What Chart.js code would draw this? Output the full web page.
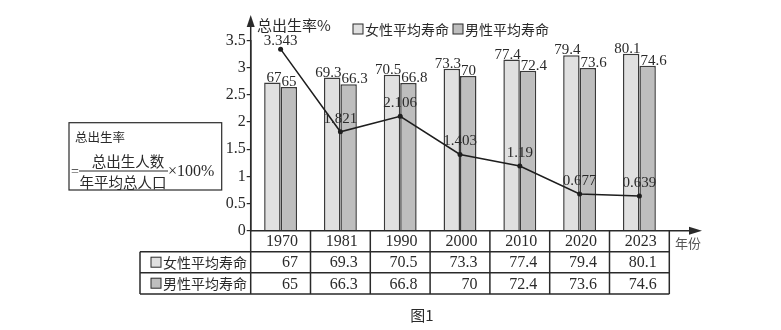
<!DOCTYPE html>
<html>
<head>
<meta charset="utf-8">
<script src="https://cdn.jsdelivr.net/npm/chart.js@4"></script>
<style>
	body { margin: 0; background: #fff; }
</style>
</head>
<body>
<canvas id="grafica" width="781" height="330"></canvas>
<script>
const years = ['1970', '1981', '1990', '2000', '2010', '2020', '2023'];
const femaleLife = [67, 69.3, 70.5, 73.3, 77.4, 79.4, 80.1];
const maleLife = [65, 66.3, 66.8, 70, 72.4, 73.6, 74.6];
const birthRate = [3.343, 1.821, 2.106, 1.403, 1.19, 0.677, 0.639];
const rateTicks = [0, 0.5, 1, 1.5, 2, 2.5, 3, 3.5];
const femaleLabel = '女性平均寿命';
const maleLabel = '男性平均寿命';

(function () {
	const grafica = document.getElementById('grafica');
	const serif = "'Liberation Serif', 'DejaVu Serif', serif";
	const cjk = "'Noto Sans CJK SC', 'Noto Sans', sans-serif";
	const ink = '#2a2a2a';
	const femaleColor = '#e0e0e0';
	const maleColor = '#bebebe';

	// --- ETIQUETAS, EJES CON FLECHA, LEYENDA Y TABLA --- //
	const extras = {
		id: 'extras',
		afterDatasetsDraw(chart) {
			const ctx = chart.ctx;
			ctx.save();
			ctx.fillStyle = ink;
			ctx.font = '15px ' + serif;
			ctx.textBaseline = 'alphabetic';
			// mujeres: pegada al borde derecho; hombres: al borde izquierdo
			chart.getDatasetMeta(1).data.forEach((bar, i) => {
				ctx.textAlign = 'right';
				ctx.fillText(String(femaleLife[i]), bar.x + bar.width / 2 + 1, bar.y - 1);
			});
			chart.getDatasetMeta(2).data.forEach((bar, i) => {
				ctx.textAlign = 'left';
				ctx.fillText(String(maleLife[i]), bar.x - bar.width / 2 + 1, bar.y - 1);
			});
			ctx.textAlign = 'center';
			chart.getDatasetMeta(0).data.forEach((pt, i) => {
				ctx.fillText(String(birthRate[i]), pt.x, Math.max(pt.y - 9, 45));
			});
			ctx.restore();
		},
		afterDraw(chart) {
			const ctx = chart.ctx;
			const area = chart.chartArea;
			const x = chart.scales.x;
			const colW = area.width / years.length;
			ctx.save();
			ctx.strokeStyle = ink;
			ctx.fillStyle = ink;
			ctx.lineWidth = 1.5;

			// eje y con flecha
			ctx.beginPath();
			ctx.moveTo(area.left, area.bottom);
			ctx.lineTo(area.left, 24);
			ctx.stroke();
			ctx.beginPath();
			ctx.moveTo(area.left, 15);
			ctx.lineTo(area.left - 4, 27);
			ctx.lineTo(area.left + 4, 27);
			ctx.closePath();
			ctx.fill();

			// eje x con flecha
			ctx.beginPath();
			ctx.moveTo(area.left, area.bottom);
			ctx.lineTo(692, area.bottom);
			ctx.stroke();
			ctx.beginPath();
			ctx.moveTo(702, area.bottom);
			ctx.lineTo(689, area.bottom - 4);
			ctx.lineTo(689, area.bottom + 4);
			ctx.closePath();
			ctx.fill();

			ctx.font = '15px ' + cjk;
			ctx.textAlign = 'left';
			ctx.textBaseline = 'middle';
			ctx.fillText('总出生率%', 257, 25);

			ctx.font = '13px ' + cjk;
			ctx.fillStyle = '#555';
			ctx.fillText('年份', 675, 243);
			ctx.fillStyle = ink;

			// leyenda
			ctx.lineWidth = 1;
			[[353, femaleColor, femaleLabel], [453, maleColor, maleLabel]].forEach(([lx, color, text]) => {
				ctx.fillStyle = color;
				ctx.fillRect(lx, 24, 10, 10);
				ctx.strokeRect(lx, 24, 10, 10);
				ctx.fillStyle = ink;
				ctx.font = '14px ' + cjk;
				ctx.fillText(text, lx + 12, 29.5);
			});

			// tabla
			const tLeft = 140;
			const tRight = area.right;
			const rows = [area.bottom, 251.7, 272.7, 294];
			ctx.lineWidth = 1.5;
			ctx.beginPath();
			ctx.moveTo(tLeft, rows[1]); ctx.lineTo(tRight, rows[1]);
			ctx.moveTo(tLeft, rows[2]); ctx.lineTo(tRight, rows[2]);
			ctx.moveTo(tLeft, rows[3]); ctx.lineTo(tRight, rows[3]);
			ctx.moveTo(tLeft, rows[1]); ctx.lineTo(tLeft, rows[3]);
			for (let i = 0; i <= years.length; i++) {
				const cx = area.left + i * colW;
				ctx.moveTo(cx, rows[0]); ctx.lineTo(cx, rows[3]);
			}
			ctx.stroke();

			ctx.textBaseline = 'middle';
			ctx.textAlign = 'right';
			ctx.font = '16px ' + serif;
			years.forEach((yr, i) => {
				const right = x.getPixelForValue(i) + colW / 2 - 12.5;
				ctx.fillText(yr, right, (rows[0] + rows[1]) / 2 + 1);
				ctx.fillText(String(femaleLife[i]), right, (rows[1] + rows[2]) / 2 + 1);
				ctx.fillText(String(maleLife[i]), right, (rows[2] + rows[3]) / 2 + 1);
			});

			ctx.textAlign = 'left';
			ctx.lineWidth = 1;
			[[rows[1], femaleColor, femaleLabel], [rows[2], maleColor, maleLabel]].forEach(([top, color, text]) => {
				const cy = top + (rows[2] - rows[1]) / 2;
				ctx.fillStyle = color;
				ctx.fillRect(151, cy - 5, 10, 10);
				ctx.strokeRect(151, cy - 5, 10, 10);
				ctx.fillStyle = ink;
				ctx.font = '14px ' + cjk;
				ctx.fillText(text, 163, cy + 0.5);
			});

			// recuadro con la formula
			ctx.lineWidth = 1.2;
			ctx.strokeRect(69, 122.7, 152.7, 67.3);
			ctx.font = '12.5px ' + cjk;
			ctx.fillText('总出生率', 75, 137);
			ctx.font = '14px ' + serif;
			ctx.fillText('=', 71, 172);
			ctx.textAlign = 'center';
			ctx.font = '14.5px ' + cjk;
			ctx.fillText('总出生人数', 128, 161);
			ctx.fillText('年平均总人口', 123, 182);
			ctx.beginPath();
			ctx.moveTo(79, 171); ctx.lineTo(168, 171);
			ctx.stroke();
			ctx.textAlign = 'left';
			ctx.font = '16px ' + serif;
			ctx.fillText('×100%', 168, 172);

			ctx.font = '15px ' + cjk;
			ctx.textAlign = 'center';
			ctx.fillText('图1', 422, 315);
			ctx.restore();
		},
	};

	new Chart(grafica, {
		type: 'bar',
		data: {
			labels: years,
			datasets: [
				{
					type: 'line',
					label: '总出生率',
					data: birthRate,
					yAxisID: 'y',
					order: 0,
					borderColor: '#1e1e1e',
					borderWidth: 1.5,
					pointRadius: 2.5,
					pointBackgroundColor: '#1e1e1e',
					pointBorderWidth: 0,
					tension: 0,
				},
				{
					label: femaleLabel,
					data: femaleLife,
					yAxisID: 'y2',
					order: 1,
					backgroundColor: femaleColor,
					borderColor: '#3a3a3a',
					borderWidth: 1.5,
					categoryPercentage: 0.55,
					barPercentage: 1,
				},
				{
					label: maleLabel,
					data: maleLife,
					yAxisID: 'y2',
					order: 1,
					backgroundColor: maleColor,
					borderColor: '#3a3a3a',
					borderWidth: 1.5,
					categoryPercentage: 0.55,
					barPercentage: 1,
				},
			],
		},
		options: {
			responsive: false,
			animation: false,
			layout: {
				padding: { left: 210.7, right: 111.7, top: 40.6, bottom: 99.3 },
			},
			scales: {
				x: { display: false },
				y: {
					position: 'left',
					min: 0,
					max: 3.5,
					afterFit: (s) => { s.width = 40; },
					afterBuildTicks: (s) => { s.ticks = rateTicks.map((v) => ({ value: v })); },
					ticks: {
						font: { family: serif, size: 16 },
						color: ink,
						padding: 1,
						callback: (v) => String(v),
					},
					grid: { drawOnChartArea: false, tickLength: 4, color: ink, lineWidth: 1.2 },
					border: { color: ink, width: 1.5 },
				},
				y2: { display: false, min: 0, max: 86 },
			},
			plugins: {
				legend: { display: false },
				tooltip: { enabled: false },
			},
		},
		plugins: [extras],
	});
})();
</script>
</body>
</html>
